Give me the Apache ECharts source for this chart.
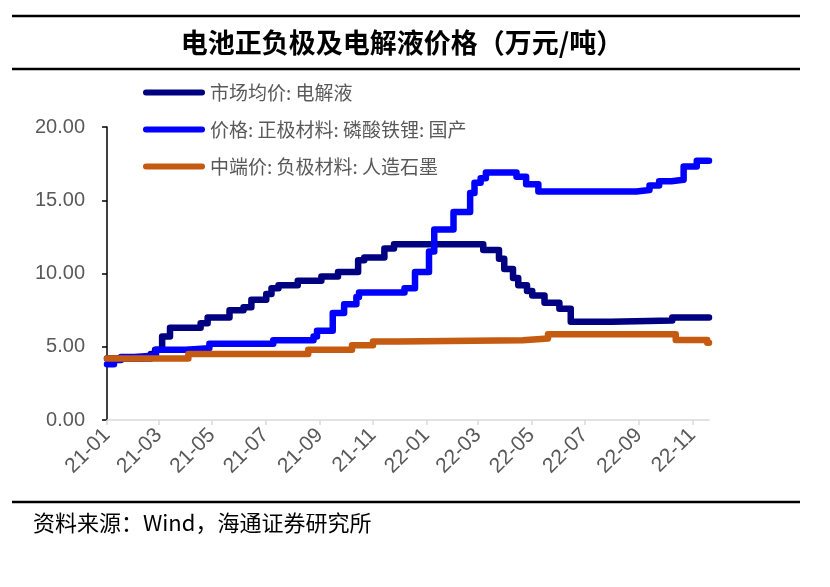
<!DOCTYPE html>
<html>
<head>
<meta charset="utf-8">
<script src="https://cdn.jsdelivr.net/npm/echarts@6/dist/echarts.min.js"></script>
<style>html,body{margin:0;padding:0;background:#fff}#c{width:830px;height:587px}</style>
</head>
<body>
<div id="c"></div>
<script>
const xTickLabels = ['21-01','21-03','21-05','21-07','21-09','21-11','22-01','22-03','22-05','22-07','22-09','22-11'];
const yTicks = [0, 5, 10, 15, 20];
const seriesNames = ['市场均价: 电解液', '价格: 正极材料: 磷酸铁锂: 国产', '中端价: 负极材料: 人造石墨'];

const electrolyteDates = ['2021-01-01','2021-02-20','2021-02-25','2021-03-05','2021-03-14','2021-04-18','2021-04-26','2021-05-21','2021-06-06','2021-06-15','2021-07-02','2021-07-08','2021-07-16','2021-08-07','2021-09-03','2021-09-22','2021-10-15','2021-10-22','2021-11-14','2021-11-25','2022-03-07','2022-03-25','2022-03-31','2022-04-10','2022-04-16','2022-04-26','2022-05-02','2022-05-16','2022-06-02','2022-06-15','2022-07-31','2022-10-09','2022-11-20'];
const electrolyteValues = [4.2,4.5,4.8,5.7,6.3,6.6,7.0,7.5,7.7,8.2,8.6,9.0,9.2,9.5,9.8,10.1,10.9,11.1,11.7,12.0,11.6,11.0,10.3,9.7,9.2,8.8,8.5,8.0,7.6,6.7,6.8,7.0,7.0];

const lfpDates = ['2021-01-01','2021-01-09','2021-01-17','2021-02-01','2021-02-26','2021-04-01','2021-04-28','2021-07-10','2021-08-25','2021-08-29','2021-09-16','2021-09-29','2021-10-13','2021-10-16','2021-12-07','2021-12-19','2022-01-04','2022-01-10','2022-02-01','2022-02-20','2022-02-25','2022-03-04','2022-03-10','2022-04-14','2022-04-25','2022-05-09','2022-08-29','2022-09-13','2022-09-24','2022-10-08','2022-10-22','2022-11-06','2022-11-20'];
const lfpValues = [3.8,4.1,4.3,4.4,4.8,4.9,5.2,5.45,5.7,6.1,7.3,7.9,8.4,8.7,9.0,10.1,11.5,13.0,14.2,15.5,16.2,16.5,16.9,16.6,16.1,15.6,15.7,16.0,16.3,16.4,17.3,17.7,17.7];

const graphiteDates = ['2021-01-01','2021-04-04','2021-08-19','2021-10-08','2021-11-01','2021-11-30','2022-04-21','2022-05-20','2022-10-13','2022-11-18','2022-11-20'];
const graphiteValues = [4.2,4.5,4.8,5.1,5.35,5.45,5.57,5.85,5.46,5.27,5.27];

function toTs(s) { const p = s.split('-').map(Number); return Date.UTC(p[0], p[1] - 1, p[2]); }
function pairs(ds, vs) { return ds.map((d, i) => [toTs(d), vs[i]]); }
const tickVals = xTickLabels.map(l => { const p = l.split('-').map(Number); return Date.UTC(2000 + p[0], p[1] - 1, 1); });
const xMin = toTs(electrolyteDates[0]);
const xMax = toTs(electrolyteDates[electrolyteDates.length - 1]);

const capsule = 'path://M3,0 L59,0 A3,3 0 0 1 59,6 L3,6 A3,3 0 0 1 3,0 Z';
const colors = ['#000080', '#0000FF', '#C55A11'];
const datas = [pairs(electrolyteDates, electrolyteValues), pairs(lfpDates, lfpValues), pairs(graphiteDates, graphiteValues)];

const chart = echarts.init(document.getElementById('c'));
chart.setOption({
  animation: false,
  backgroundColor: '#fff',
  legend: {
    orient: 'vertical', left: 143, top: 83, padding: 0,
    itemWidth: 62, itemHeight: 7, itemGap: 18,
    icon: capsule,
    data: seriesNames,
    textStyle: { fontSize: 19, color: '#595959', fontFamily: 'Noto Sans CJK SC' }
  },
  grid: { left: 107, right: 121, top: 127, bottom: 167 },
  xAxis: {
    type: 'value', min: xMin, max: xMax, scale: true,
    axisLine: { show: true, lineStyle: { color: '#D9D9D9', width: 1.5 } },
    axisTick: { show: true, length: 5, customValues: tickVals, lineStyle: { color: '#D9D9D9', width: 1.5 } },
    axisLabel: {
      customValues: tickVals, rotate: 45, margin: 12,
      color: '#595959', fontSize: 21, fontFamily: 'Liberation Sans',
      formatter: v => { const i = tickVals.indexOf(v); return i >= 0 ? xTickLabels[i] : ''; }
    },
    splitLine: { show: false }
  },
  yAxis: {
    type: 'value', min: yTicks[0], max: yTicks[yTicks.length - 1], interval: 5,
    axisLine: { show: true, lineStyle: { color: '#000', width: 1.5 } },
    axisTick: { show: true, length: 5, lineStyle: { color: '#000', width: 1.5 } },
    axisLabel: { formatter: v => v.toFixed(2), color: '#595959', fontSize: 20, fontFamily: 'Liberation Sans', margin: 22 },
    splitLine: { show: false }
  },
  series: seriesNames.map((n, i) => ({
    name: n, type: 'line', step: 'end', data: datas[i],
    showSymbol: false, symbol: 'none', color: colors[i],
    lineStyle: { width: 6.5, color: colors[i], cap: 'round', join: 'round' },
    z: 2 + i
  })),
  graphic: [
    { type: 'line', shape: { x1: 12, y1: 16, x2: 800, y2: 16 }, style: { stroke: '#000', lineWidth: 2.5 } },
    { type: 'line', shape: { x1: 12, y1: 69, x2: 800, y2: 69 }, style: { stroke: '#000', lineWidth: 2.5 } },
    { type: 'line', shape: { x1: 12, y1: 502, x2: 800, y2: 502 }, style: { stroke: '#000', lineWidth: 2.5 } },
    { type: 'text', x: 402, y: 43, style: { text: '电池正负极及电解液价格（万元/吨）', fill: '#000', font: 'bold 27px "Noto Sans CJK SC"', textAlign: 'center', textVerticalAlign: 'middle' } },
    { type: 'text', x: 33, y: 523, style: { text: '资料来源：Wind，海通证券研究所', fill: '#000', font: '22px "Noto Sans CJK SC"', textAlign: 'left', textVerticalAlign: 'middle' } }
  ]
});
</script>
</body>
</html>
